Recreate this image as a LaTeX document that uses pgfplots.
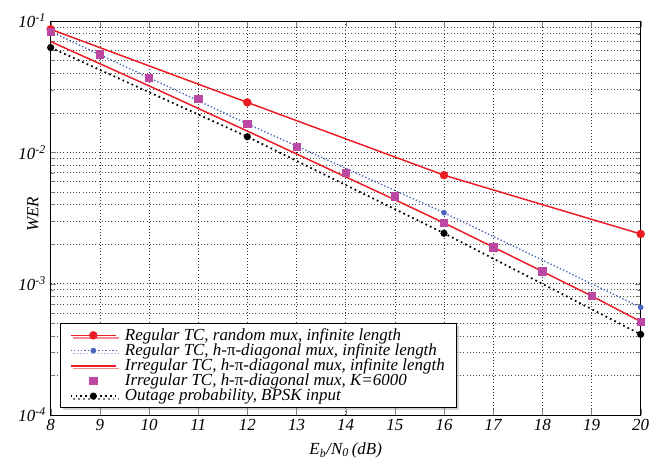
\documentclass[border=0pt]{standalone}
\usepackage{fontspec}
\setmainfont{Liberation Serif}
\usepackage{pgfplots}
\pgfplotsset{compat=1.18}
\usetikzlibrary{shadows,calc}
\definecolor{wred}{RGB}{236,28,36}
\definecolor{wblue}{RGB}{72,102,190}
\definecolor{wmag}{RGB}{188,72,164}
\newcommand{\lblfont}{\fontsize{12.7}{14}\selectfont\itshape}
\begin{document}
\begin{tikzpicture}
\begin{axis}[
    name=ax,
    scale only axis,
    width=442.5pt,
    height=295.5pt,
    ymode=log,
    xmin=8, xmax=20,
    ymin=1e-4, ymax=1e-1,
    xtick={8,...,20},
    ytick={1e-4,1e-3,1e-2,1e-1},
    yticklabels={10\textsuperscript{-4},10\textsuperscript{-3},10\textsuperscript{-2},10\textsuperscript{-1}},
    /pgf/number format/assume math mode=true,
    tick label style={font=\lblfont},
    label style={font=\lblfont},
    xlabel={E\textsubscript{b}/N\textsubscript{0}\,(dB)},
    ylabel={WER},
    xlabel style={at={(axis description cs:0.5,-0.09)}, anchor=center},
    ylabel style={at={(axis description cs:-0.030,0.51)}, anchor=center},
    grid=both,
    major grid style={black!80, dotted},
    minor grid style={black!70, dotted},
    legend cell align=left,
    legend image code/.code={\draw[mark repeat=2,mark phase=2,#1] plot coordinates {(0cm,0cm)(0.6cm,0cm)(1.2cm,0cm)};},
    legend style={at={(0.016,0.018)}, anchor=south west, font=\lblfont,
        draw=black, fill=white, drop shadow={shadow xshift=2pt, shadow yshift=-2pt, fill=gray!70},
        row sep=-3pt, inner sep=1.5pt, inner xsep=7pt, column sep=4pt},
]
\addplot[wred, line width=1.1pt, mark=*, mark size=2.6pt] coordinates {
    (8, 0.0865) (12, 0.0240) (16, 0.0067) (20, 0.00239)
};
\addlegendentry{Regular TC, random mux, infinite length}

\addplot[wblue, line width=1pt, dash pattern=on 1pt off 1.6pt, mark=*, mark size=1.6pt, mark options={solid}] coordinates {
    (8, 0.083) (12, 0.0165) (16, 0.00347) (20, 0.00066)
};
\addlegendentry{Regular TC, h-{\upshape π}-diagonal mux, infinite length}

\addplot[wred, line width=1.1pt] coordinates {
    (8, 0.0697) (9, 0.0473) (10, 0.0321) (11, 0.0216) (12, 0.01452)
    (13, 0.00973) (14, 0.0065) (15, 0.00436) (16, 0.0029) (17, 0.0019)
    (18, 0.00124) (19, 0.000807) (20, 0.000515)
};
\addlegendentry{Irregular TC, h-{\upshape π}-diagonal mux, infinite length}

\addplot[wmag, only marks, mark=square*, mark size=2.8pt] coordinates {
    (8, 0.083) (9, 0.056) (10, 0.0368) (11, 0.0256) (12, 0.0165)
    (13, 0.01104) (14, 0.00701) (15, 0.00464) (16, 0.0029) (17, 0.0019)
    (18, 0.00124) (19, 0.000807) (20, 0.000515)
};
\addlegendentry{Irregular TC, h-{\upshape π}-diagonal mux, K=6000}

\addplot[black, line width=1.3pt, dash pattern=on 1.3pt off 2.4pt, mark=*, mark size=2pt, mark options={solid}] coordinates {
    (8, 0.0628) (12, 0.01315) (16, 0.00242) (20, 0.000411)
};
\addlegendentry{Outage probability, BPSK input}
\end{axis}
\pgfresetboundingbox
\path[use as bounding box] ($(ax.south west)+(-38pt,-32.25pt)$) rectangle ($(ax.north east)+(7pt,15.75pt)$);
\end{tikzpicture}
\end{document}
